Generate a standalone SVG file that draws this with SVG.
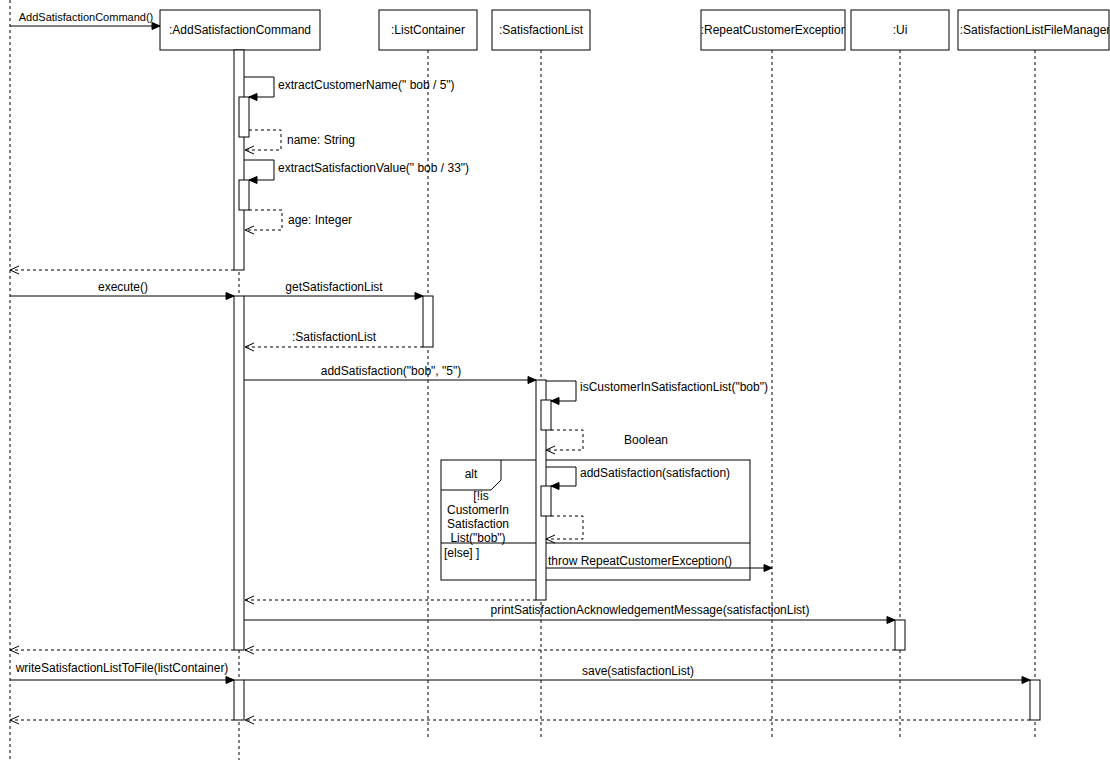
<svg xmlns="http://www.w3.org/2000/svg" width="1110" height="763" viewBox="0 0 1110 763">
<defs>
<style>
.box{fill:#fff;stroke:#000;stroke-width:1}
.life{stroke:#000;stroke-width:1;stroke-dasharray:3 3;fill:none}
.act{fill:#fff;stroke:#000;stroke-width:1}
.msg{stroke:#000;stroke-width:1;fill:none;marker-end:url(#fa)}
.ret{stroke:#000;stroke-width:1;fill:none;stroke-dasharray:3 3;marker-end:url(#oa)}
.frame{fill:none;stroke:#000;stroke-width:1}
.nl{font-family:"Liberation Sans",Arial,sans-serif;font-size:12px;fill:#000;text-anchor:middle;dominant-baseline:central}
.ml{font-family:"Liberation Sans",Arial,sans-serif;font-size:12px;fill:#000;dominant-baseline:central}
.c{text-anchor:middle}
</style>
<marker id="fa" markerUnits="userSpaceOnUse" markerWidth="10" markerHeight="10" viewBox="0 0 10 10" refX="9" refY="5" orient="auto">
<path d="M1,1.5 L9,5 L1,8.5 Z" fill="#000" stroke="#000" stroke-width="1"/>
</marker>
<marker id="oa" markerUnits="userSpaceOnUse" markerWidth="12" markerHeight="12" viewBox="0 0 12 12" refX="11" refY="6" orient="auto">
<path d="M2,2 L11,6 L2,10" fill="none" stroke="#000" stroke-width="1"/>
</marker>
<clipPath id="clipRCE"><rect x="699" y="10" width="146" height="40"/></clipPath>
<clipPath id="clipFM"><rect x="956" y="10" width="153" height="40"/></clipPath>
</defs>
<rect width="1110" height="763" fill="#fff"/>

<g id="lifelines">
<line class="life" x1="10" y1="0" x2="10" y2="760"/>
<line class="life" x1="239" y1="50" x2="239" y2="760"/>
<line class="life" x1="428" y1="50" x2="428" y2="738"/>
<line class="life" x1="541" y1="50" x2="541" y2="738"/>
<line class="life" x1="772" y1="50" x2="772" y2="738"/>
<line class="life" x1="900" y1="50" x2="900" y2="738"/>
<line class="life" x1="1035" y1="50" x2="1035" y2="738"/>
</g>

<g id="node-addSatisfactionCommand">
<rect class="box" x="160" y="10" width="160" height="40"/>
<text class="nl" x="240" y="30">:AddSatisfactionCommand</text>
</g>
<g id="node-listContainer">
<rect class="box" x="379" y="10" width="98" height="40"/>
<text class="nl" x="428" y="30">:ListContainer</text>
</g>
<g id="node-satisfactionList">
<rect class="box" x="492" y="10" width="98" height="40"/>
<text class="nl" x="541" y="30">:SatisfactionList</text>
</g>
<g id="node-repeatCustomerException">
<rect class="box" x="701" y="10" width="144" height="40"/>
<text class="nl" x="774" y="30" clip-path="url(#clipRCE)">:RepeatCustomerException</text>
</g>
<g id="node-ui">
<rect class="box" x="851" y="10" width="98" height="40"/>
<text class="nl" x="900" y="30">:Ui</text>
</g>
<g id="node-fileManager">
<rect class="box" x="958" y="10" width="151" height="40"/>
<text class="nl" x="1035" y="30" clip-path="url(#clipFM)">:SatisfactionListFileManager</text>
</g>

<g id="alt-frame">
<rect class="frame" x="441" y="460" width="309" height="120"/>
<path class="frame" d="M441,490 L491,490 L501,480 L501,460"/>
<line class="frame" x1="441" y1="543" x2="750" y2="543"/>
<text class="ml c" x="471" y="474">alt</text>
<text class="ml c" x="481" y="496">[!is</text>
<text class="ml c" x="478" y="510">CustomerIn</text>
<text class="ml c" x="478" y="524">Satisfaction</text>
<text class="ml c" x="478" y="538">List("bob")</text>
<text class="ml" x="444" y="553">[else] ]</text>
</g>

<g id="activations">
<rect class="act" x="234" y="50" width="10" height="220"/>
<rect class="act" x="239" y="97" width="10" height="40"/>
<rect class="act" x="239" y="180" width="10" height="30"/>
<rect class="act" x="234" y="296" width="10" height="354"/>
<rect class="act" x="423" y="296" width="10" height="51"/>
<rect class="act" x="536" y="380" width="10" height="220"/>
<rect class="act" x="541" y="400" width="10" height="30"/>
<rect class="act" x="541" y="486" width="10" height="30"/>
<rect class="act" x="895" y="620" width="10" height="30"/>
<rect class="act" x="234" y="680" width="10" height="40"/>
<rect class="act" x="1030" y="680" width="10" height="40"/>
</g>

<g id="connectors">
<line class="msg" x1="10" y1="26" x2="160" y2="26"/>
<text class="ml c" x="86" y="17" style="font-size:11px">AddSatisfactionCommand()</text>

<polyline class="msg" points="244,77 274,77 274,97 249,97"/>
<text class="ml" x="278" y="85">extractCustomerName(" bob / 5")</text>
<polyline class="ret" points="249,130 281,130 281,150 245,150"/>
<text class="ml" x="287" y="140">name: String</text>

<polyline class="msg" points="244,160 274,160 274,180 249,180"/>
<text class="ml" x="278" y="168">extractSatisfactionValue(" bob / 33")</text>
<polyline class="ret" points="249,210 282,210 282,230 245,230"/>
<text class="ml" x="288" y="220">age: Integer</text>

<line class="ret" x1="234" y1="270" x2="10" y2="270"/>

<line class="msg" x1="10" y1="296" x2="234" y2="296"/>
<text class="ml c" x="123" y="287">execute()</text>
<line class="msg" x1="244" y1="296" x2="423" y2="296"/>
<text class="ml c" x="334" y="287">getSatisfactionList</text>
<line class="ret" x1="423" y1="347" x2="245" y2="347"/>
<text class="ml c" x="334" y="337">:SatisfactionList</text>

<line class="msg" x1="244" y1="380" x2="536" y2="380"/>
<text class="ml c" x="391" y="371">addSatisfaction("bob", "5")</text>

<polyline class="msg" points="546,381 576,381 576,401 551,401"/>
<text class="ml" x="580" y="387">isCustomerInSatisfactionList("bob")</text>
<polyline class="ret" points="551,430 583,430 583,450 546,450"/>
<text class="ml" x="624" y="440">Boolean</text>

<polyline class="msg" points="546,467 576,467 576,486 551,486"/>
<text class="ml" x="580" y="473">addSatisfaction(satisfaction)</text>
<polyline class="ret" points="551,516 583,516 583,539 546,539"/>

<line class="msg" x1="546" y1="568" x2="772" y2="568"/>
<text class="ml" x="548" y="561">throw RepeatCustomerException()</text>

<line class="ret" x1="536" y1="600" x2="245" y2="600"/>

<line class="msg" x1="244" y1="620" x2="895" y2="620"/>
<text class="ml c" x="650" y="610">printSatisfactionAcknowledgementMessage(satisfactionList)</text>
<line class="ret" x1="895" y1="650" x2="245" y2="650"/>
<line class="ret" x1="234" y1="650" x2="10" y2="650"/>

<line class="msg" x1="10" y1="680" x2="234" y2="680"/>
<text class="ml c" x="122" y="668">writeSatisfactionListToFile(listContainer)</text>
<line class="msg" x1="244" y1="680" x2="1030" y2="680"/>
<text class="ml c" x="638" y="671">save(satisfactionList)</text>
<line class="ret" x1="1030" y1="720" x2="245" y2="720"/>
<line class="ret" x1="234" y1="720" x2="10" y2="720"/>
</g>
</svg>
